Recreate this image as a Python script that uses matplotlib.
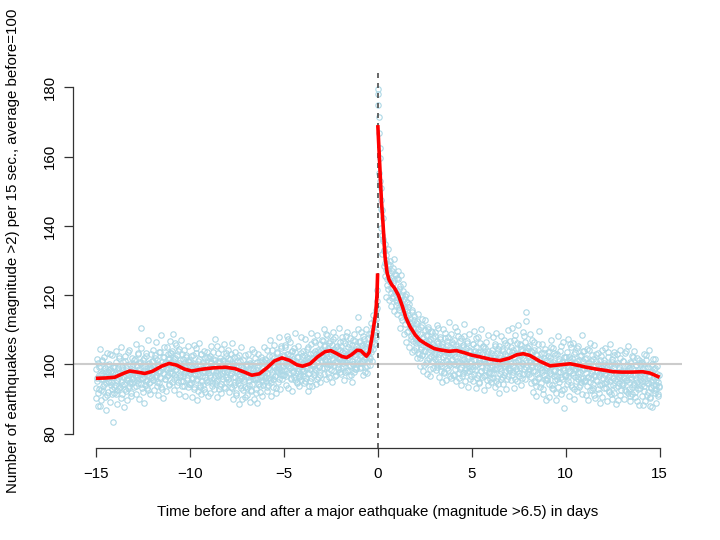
import numpy as np
import matplotlib
matplotlib.use("Agg")
import matplotlib.pyplot as plt

plt.rcParams["font.family"] = ["Liberation Sans", "DejaVu Sans"]

# relative earthquake counts, one row per day (30 readings per day), days -15 .. 14
counts = [
    [93.2, 98.7, 95.1, 100.4, 91.8, 96.9, 88.0, 99.6, 97.2, 92.5, 101.3, 95.8, 93.9, 98.1, 96.4, 90.7, 97.8, 94.6, 99.9, 95.3, 92.1, 98.4, 96.8, 103.1, 94.0, 97.5, 91.4, 99.2, 83.4, 93.6],
    [97.3, 94.1, 100.8, 95.6, 92.7, 98.9, 96.2, 102.4, 93.5, 97.7, 95.0, 99.3, 91.6, 96.7, 98.5, 94.4, 101.1, 92.9, 97.0, 95.4, 99.8, 93.1, 96.0, 104.2, 94.8, 98.2, 91.9, 97.6, 95.9, 100.2],
    [98.4, 95.2, 101.6, 97.1, 93.8, 99.7, 96.5, 102.9, 94.7, 98.8, 100.5, 95.9, 110.4, 97.3, 93.2, 99.1, 96.2, 101.8, 94.1, 98.0, 103.3, 95.5, 97.9, 92.6, 100.2, 96.8, 99.4, 94.9, 98.6, 101.0],
    [97.2, 100.9, 95.4, 99.1, 102.7, 96.3, 98.6, 93.9, 101.4, 97.8, 99.9, 94.6, 103.5, 98.2, 96.0, 100.6, 92.8, 99.4, 97.5, 102.1, 95.8, 100.3, 98.9, 105.0, 96.6, 101.7, 94.2, 99.0, 103.2, 97.4],
    [100.8, 97.6, 103.9, 99.2, 95.7, 101.5, 98.3, 106.1, 96.4, 100.1, 102.8, 94.9, 99.6, 104.4, 97.0, 101.2, 95.2, 98.7, 103.0, 96.8, 100.4, 93.7, 99.3, 97.9, 102.3, 95.6, 98.1, 101.0, 94.5, 99.8],
    [97.4, 101.3, 94.6, 99.0, 96.2, 102.6, 98.5, 93.4, 100.2, 97.1, 104.8, 95.9, 98.8, 92.3, 101.7, 96.7, 99.5, 94.0, 103.1, 97.9, 95.1, 100.7, 98.2, 93.0, 101.9, 96.3, 99.8, 94.8, 102.2, 97.6],
    [99.1, 95.3, 102.5, 97.0, 100.6, 93.8, 98.4, 103.7, 96.1, 99.9, 94.7, 101.4, 97.7, 105.3, 95.6, 98.9, 92.9, 100.8, 97.3, 102.0, 94.4, 99.5, 96.8, 101.1, 98.0, 93.5, 100.3, 96.5, 103.4, 98.6],
    [98.2, 101.8, 95.0, 99.6, 96.9, 103.0, 97.5, 93.3, 100.5, 98.7, 94.2, 102.3, 96.4, 99.2, 91.9, 98.0, 100.9, 95.5, 97.3, 102.8, 94.1, 99.4, 96.0, 89.9, 98.5, 101.2, 95.8, 97.9, 93.6, 100.1],
    [96.3, 99.7, 93.1, 97.8, 101.4, 95.2, 98.6, 92.4, 100.0, 96.7, 94.5, 99.1, 97.2, 103.6, 95.9, 91.7, 98.3, 96.0, 100.8, 94.3, 97.6, 99.9, 93.8, 96.5, 102.2, 95.4, 98.9, 94.0, 97.1, 100.6],
    [98.0, 95.3, 101.2, 97.4, 93.6, 99.8, 96.1, 102.5, 98.6, 94.8, 100.3, 97.0, 104.1, 95.7, 99.4, 101.9, 96.6, 98.8, 93.2, 100.7, 103.3, 97.7, 99.1, 95.9, 102.0, 98.3, 105.2, 96.9, 100.9, 99.5],
    [102.4, 98.6, 104.9, 100.2, 96.8, 103.1, 99.7, 107.3, 101.0, 97.4, 102.8, 95.9, 100.5, 104.0, 98.1, 101.6, 96.3, 99.3, 103.7, 97.6, 100.9, 94.8, 98.9, 102.1, 96.5, 100.0, 97.2, 103.4, 95.4, 99.8],
    [100.3, 96.7, 102.6, 98.4, 95.1, 101.2, 99.0, 104.5, 97.3, 100.8, 93.9, 102.0, 98.7, 105.8, 96.2, 101.5, 99.6, 103.3, 97.9, 100.1, 106.4, 98.5, 102.9, 95.7, 101.8, 104.1, 99.2, 103.6, 97.0, 102.4],
    [104.2, 100.6, 106.8, 102.1, 98.9, 105.3, 101.7, 108.9, 103.0, 99.4, 104.7, 97.6, 102.5, 106.1, 100.2, 103.8, 98.3, 105.6, 101.3, 107.4, 99.8, 103.2, 96.8, 102.7, 105.0, 100.9, 104.4, 98.6, 102.0, 106.5],
    [101.9, 105.4, 99.1, 103.6, 100.3, 106.7, 102.2, 97.8, 104.0, 100.7, 108.2, 101.4, 98.4, 103.1, 105.9, 99.6, 102.8, 96.9, 104.6, 101.0, 107.0, 100.0, 103.9, 98.8, 102.3, 105.2, 99.3, 101.7, 104.8, 113.8],
    [103.8, 100.4, 106.9, 102.6, 99.2, 105.5, 101.1, 108.3, 103.3, 97.9, 104.6, 101.8, 106.2, 99.7, 103.0, 107.6, 100.9, 104.2, 102.0, 109.1, 103.5, 106.4, 110.8, 114.3, 105.8, 108.6, 111.7, 107.9, 113.2, 116.4],
    [179.6, 178.2, 171.5, 162.4, 159.5, 150.8, 147.5, 144.6, 142.2, 136.1, 133.0, 129.4, 134.8, 127.2, 131.5, 124.6, 129.0, 121.8, 126.3, 123.9, 128.7, 120.6, 125.1, 122.4, 127.9, 119.8, 124.3, 121.0, 126.0, 118.7],
    [121.3, 117.9, 124.6, 119.2, 115.8, 122.7, 118.4, 113.6, 120.0, 116.5, 123.1, 114.9, 118.8, 111.7, 116.1, 120.4, 112.8, 115.3, 109.6, 114.2, 117.5, 110.9, 113.3, 108.1, 112.0, 115.6, 106.9, 110.4, 113.9, 107.7],
    [109.4, 105.0, 112.6, 107.1, 103.3, 110.2, 106.4, 101.8, 108.7, 104.5, 113.1, 102.7, 107.8, 105.6, 99.9, 109.9, 104.0, 106.9, 101.2, 108.1, 103.6, 110.8, 105.3, 98.7, 107.4, 102.4, 106.0, 109.3, 100.6, 104.7],
    [105.2, 101.6, 108.3, 103.0, 99.4, 106.7, 102.1, 110.5, 104.4, 100.2, 107.3, 98.1, 103.8, 106.0, 100.8, 104.9, 97.5, 102.6, 109.2, 101.3, 105.7, 99.0, 103.4, 107.9, 100.5, 104.1, 96.8, 102.9, 106.4, 101.7],
    [103.5, 100.1, 107.0, 102.3, 98.7, 105.4, 101.0, 109.6, 103.9, 97.4, 104.7, 100.6, 106.8, 99.3, 102.8, 96.6, 105.1, 101.5, 108.1, 98.4, 103.2, 100.0, 106.2, 97.7, 102.0, 104.3, 99.6, 95.9, 103.7, 101.1],
    [102.4, 98.8, 105.9, 101.2, 97.3, 104.0, 99.7, 107.5, 102.9, 96.1, 103.5, 100.4, 94.9, 101.8, 106.3, 98.0, 103.0, 99.2, 105.1, 96.7, 101.4, 104.7, 98.5, 102.2, 95.4, 100.6, 103.8, 97.9, 101.0, 99.4],
    [100.9, 97.6, 104.3, 99.8, 96.0, 102.7, 98.6, 106.0, 101.3, 95.2, 103.4, 99.1, 94.3, 100.5, 105.2, 97.2, 102.0, 98.2, 104.6, 96.4, 101.7, 99.5, 107.1, 97.8, 103.0, 100.2, 95.8, 102.5, 98.9, 104.0],
    [101.6, 98.3, 105.0, 100.4, 96.9, 103.7, 99.6, 107.2, 102.2, 95.9, 104.4, 100.8, 98.0, 106.1, 101.1, 97.4, 103.1, 99.0, 105.7, 102.8, 96.2, 104.0, 100.0, 108.3, 98.7, 103.5, 101.4, 115.2, 97.6, 104.9],
    [102.1, 98.6, 105.3, 100.7, 96.5, 103.9, 99.4, 107.0, 101.6, 95.3, 104.2, 98.1, 100.9, 93.8, 102.6, 97.2, 105.8, 99.9, 96.3, 101.3, 94.7, 103.4, 98.4, 100.2, 92.9, 101.9, 97.0, 104.5, 99.3, 95.6],
    [99.0, 95.6, 102.4, 98.1, 94.4, 101.1, 97.3, 104.9, 99.8, 93.3, 100.6, 96.8, 103.2, 98.5, 91.7, 100.0, 95.9, 102.9, 97.7, 94.9, 101.5, 99.2, 105.3, 96.3, 100.8, 92.6, 98.9, 87.3, 102.1, 97.1],
    [100.4, 96.9, 103.6, 99.1, 95.2, 102.2, 98.0, 106.0, 100.8, 94.1, 101.9, 97.5, 99.7, 92.8, 103.0, 96.4, 100.3, 98.6, 104.7, 95.7, 99.4, 93.6, 101.2, 97.9, 102.7, 94.8, 98.3, 100.9, 96.1, 103.9],
    [98.7, 95.3, 102.0, 97.6, 93.7, 100.5, 96.5, 104.2, 99.1, 92.5, 100.9, 96.0, 98.2, 94.4, 101.6, 97.1, 91.3, 99.5, 95.6, 103.1, 97.8, 93.0, 100.2, 96.7, 98.9, 94.1, 102.4, 97.4, 90.6, 99.8],
    [98.0, 94.6, 101.3, 96.9, 93.1, 99.8, 95.9, 103.5, 98.4, 92.0, 100.1, 95.2, 97.5, 91.4, 100.7, 96.2, 94.0, 99.0, 102.6, 95.5, 97.3, 93.5, 100.4, 96.6, 89.8, 98.7, 94.7, 101.8, 97.0, 92.7],
    [97.9, 94.3, 101.0, 96.4, 92.6, 99.5, 95.6, 103.9, 98.1, 91.7, 99.8, 94.9, 97.2, 90.9, 100.3, 95.8, 93.4, 98.6, 102.2, 94.5, 97.0, 92.1, 99.9, 96.1, 89.4, 98.3, 94.0, 101.4, 96.8, 93.2],
    [97.6, 94.0, 100.7, 88.2, 96.0, 92.4, 99.1, 95.3, 102.8, 97.8, 91.3, 99.4, 94.6, 96.9, 90.5, 88.0, 95.0, 93.1, 98.2, 101.6, 94.2, 96.5, 91.8, 99.0, 95.6, 92.8, 97.3, 90.8, 94.9, 93.4],
]

# readings taken half a step later than the ones above
counts_mid = [
    [90.3, 101.7, 96.2, 87.9, 99.4, 93.0, 104.5, 95.7, 89.6, 100.9, 97.4, 92.2, 102.3, 94.5, 98.9, 86.8, 96.6, 103.2, 91.1, 97.9, 94.9, 100.0, 89.1, 98.2, 95.0, 102.8, 92.9, 96.3, 99.7, 91.7],
    [99.2, 91.5, 103.8, 95.2, 88.7, 97.5, 101.9, 93.3, 96.9, 105.0, 90.2, 98.6, 94.0, 100.6, 87.6, 96.4, 102.5, 92.4, 99.0, 95.8, 89.8, 103.5, 97.1, 93.7, 100.1, 91.0, 98.0, 94.6, 102.0, 96.1],
    [101.2, 93.5, 98.1, 106.0, 91.4, 99.9, 95.4, 103.4, 89.9, 97.6, 100.8, 94.3, 104.7, 96.0, 92.0, 101.4, 98.5, 88.8, 99.6, 95.1, 102.5, 93.1, 97.2, 107.2, 94.7, 100.4, 91.6, 98.3, 103.0, 96.5],
    [95.5, 104.1, 99.6, 92.7, 101.8, 97.0, 106.5, 94.9, 100.0, 91.2, 98.2, 103.6, 96.3, 108.4, 93.6, 99.3, 102.2, 90.4, 97.3, 104.9, 95.8, 100.7, 92.3, 98.8, 103.1, 96.9, 101.5, 94.4, 106.9, 99.0],
    [103.4, 95.0, 100.9, 108.7, 97.1, 92.5, 102.0, 98.6, 105.6, 94.2, 99.7, 103.9, 91.6, 100.3, 96.5, 107.0, 98.1, 93.9, 101.6, 95.3, 104.3, 97.5, 90.8, 99.9, 102.7, 96.0, 105.2, 93.4, 100.6, 97.9],
    [94.3, 102.5, 98.0, 90.6, 100.4, 96.0, 105.5, 92.9, 99.1, 103.2, 95.4, 89.7, 101.1, 97.2, 106.3, 93.5, 98.7, 91.4, 102.9, 96.6, 100.0, 94.1, 104.0, 97.8, 92.1, 99.5, 95.6, 103.6, 90.9, 98.4],
    [102.0, 96.4, 91.7, 100.5, 105.2, 94.6, 98.2, 101.7, 92.8, 97.0, 107.4, 95.2, 99.6, 90.5, 103.3, 96.9, 100.9, 93.8, 98.6, 104.6, 91.9, 97.4, 101.3, 95.9, 106.0, 93.1, 99.2, 102.4, 94.9, 97.7],
    [95.7, 104.3, 92.0, 99.8, 101.6, 93.5, 97.6, 106.2, 96.3, 90.1, 100.2, 95.0, 103.7, 98.4, 91.2, 102.1, 94.7, 99.5, 88.5, 96.8, 101.0, 93.3, 105.1, 97.9, 92.5, 99.1, 95.3, 102.6, 90.7, 97.0],
    [99.9, 91.3, 96.5, 102.9, 94.1, 89.2, 100.3, 97.0, 92.6, 104.4, 95.8, 98.4, 90.0, 101.9, 96.1, 93.0, 99.4, 88.9, 97.5, 103.1, 94.4, 100.7, 92.0, 96.9, 101.2, 90.8, 98.1, 95.1, 105.0, 96.0],
    [101.5, 96.3, 92.4, 104.2, 98.9, 94.0, 100.8, 107.1, 95.5, 90.9, 102.4, 97.8, 99.6, 93.6, 105.6, 96.8, 101.0, 91.8, 98.2, 103.6, 95.0, 100.1, 108.0, 97.3, 92.9, 104.8, 99.3, 95.9, 102.7, 97.1],
    [97.0, 105.6, 100.3, 94.2, 108.1, 98.5, 102.9, 93.1, 101.6, 99.0, 106.4, 96.2, 103.8, 92.4, 100.9, 97.7, 104.7, 95.6, 109.0, 99.5, 94.6, 102.1, 98.0, 105.3, 93.9, 100.6, 96.6, 107.8, 98.7, 102.5],
    [98.1, 104.0, 94.7, 100.5, 107.3, 96.0, 102.3, 99.1, 92.3, 105.0, 97.6, 103.1, 95.3, 109.2, 100.0, 93.8, 101.9, 97.1, 106.7, 98.8, 103.9, 94.4, 100.6, 108.5, 96.5, 102.6, 99.7, 95.0, 105.9, 101.3],
    [107.0, 99.0, 103.5, 110.1, 97.2, 101.2, 105.7, 95.9, 102.3, 108.6, 100.1, 104.1, 96.4, 106.9, 99.8, 103.0, 94.8, 101.9, 109.4, 98.2, 104.5, 100.6, 107.8, 97.0, 102.9, 105.3, 99.2, 110.4, 101.5, 97.7],
    [104.3, 97.3, 101.4, 108.0, 99.5, 103.3, 95.5, 106.3, 100.6, 102.6, 109.3, 98.1, 104.9, 96.6, 101.2, 107.5, 99.9, 103.7, 94.9, 105.6, 100.2, 108.9, 97.7, 102.9, 106.8, 98.6, 104.1, 100.4, 110.2, 103.2],
    [106.5, 98.9, 102.4, 109.5, 100.7, 104.8, 96.9, 107.3, 101.6, 105.4, 99.3, 110.3, 103.1, 97.5, 106.0, 101.9, 108.7, 99.8, 104.9, 112.0, 101.0, 107.8, 104.4, 109.8, 112.9, 106.1, 115.7, 109.4, 118.2, 121.5],
    [175.0, 166.8, 155.3, 152.9, 145.0, 139.4, 137.5, 131.9, 135.6, 128.4, 132.7, 125.5, 130.2, 119.6, 127.3, 123.0, 133.4, 118.5, 124.8, 129.9, 116.9, 122.2, 127.0, 119.1, 123.6, 130.5, 115.4, 121.1, 125.7, 117.2],
    [124.9, 114.7, 127.1, 116.6, 121.9, 110.5, 119.6, 125.8, 112.9, 117.3, 121.1, 108.8, 115.0, 119.9, 106.6, 113.7, 118.0, 109.4, 116.7, 104.9, 112.3, 119.3, 107.4, 111.1, 115.2, 103.7, 109.1, 112.8, 104.2, 110.6],
    [106.2, 112.1, 101.9, 109.0, 114.5, 103.1, 107.0, 99.5, 110.7, 105.1, 102.6, 111.4, 98.2, 106.5, 103.9, 112.7, 100.4, 108.4, 97.3, 105.9, 110.1, 102.0, 106.7, 96.6, 104.3, 109.6, 101.0, 107.7, 99.1, 103.4],
    [102.5, 109.3, 98.5, 104.8, 111.3, 100.1, 106.2, 96.4, 103.1, 108.0, 99.5, 105.4, 94.9, 102.2, 110.2, 97.9, 104.0, 107.6, 95.5, 101.0, 106.8, 98.3, 103.7, 112.2, 99.9, 105.0, 96.2, 108.7, 101.4, 97.0],
    [106.0, 97.1, 102.9, 110.9, 99.9, 95.3, 104.4, 100.5, 108.3, 96.0, 103.3, 98.8, 107.6, 94.2, 101.6, 105.6, 97.5, 111.8, 100.8, 95.1, 104.8, 99.0, 106.9, 93.4, 102.5, 108.8, 98.0, 103.9, 96.6, 100.3],
    [99.6, 106.0, 95.3, 102.8, 109.7, 98.4, 93.2, 104.9, 100.0, 96.9, 107.8, 101.3, 94.7, 103.6, 98.0, 110.3, 96.3, 101.6, 105.2, 92.5, 100.5, 97.1, 106.6, 99.2, 103.0, 94.0, 108.4, 97.6, 102.3, 95.8],
    [103.2, 95.0, 99.3, 107.9, 97.4, 101.9, 93.5, 105.4, 98.7, 109.1, 96.1, 100.7, 104.5, 91.8, 99.0, 102.8, 95.7, 108.2, 100.1, 94.4, 103.8, 97.0, 106.1, 99.6, 92.9, 101.5, 105.6, 96.8, 110.0, 98.3],
    [99.1, 106.8, 95.6, 102.6, 110.6, 97.8, 104.1, 93.3, 100.7, 108.4, 98.6, 103.3, 95.1, 111.4, 101.2, 96.7, 106.0, 99.9, 94.0, 104.6, 100.3, 109.5, 97.2, 102.0, 106.5, 95.9, 112.6, 99.4, 103.9, 98.0],
    [104.7, 97.3, 101.2, 108.9, 94.6, 99.8, 103.6, 92.0, 98.2, 106.4, 100.4, 95.0, 102.9, 90.8, 99.3, 104.2, 96.2, 109.8, 98.9, 93.6, 101.7, 97.7, 106.0, 91.5, 100.0, 103.3, 95.8, 98.5, 89.6, 101.4],
    [96.0, 103.5, 99.5, 90.6, 101.8, 97.4, 107.0, 94.1, 100.2, 92.8, 104.8, 98.1, 95.4, 102.6, 89.7, 99.9, 96.6, 108.1, 93.5, 101.0, 97.9, 104.0, 91.5, 100.6, 95.9, 106.4, 98.3, 93.0, 102.3, 96.8],
    [102.1, 94.5, 99.8, 107.4, 96.5, 91.0, 101.3, 98.1, 104.9, 93.4, 100.2, 97.0, 106.1, 89.9, 98.7, 103.5, 95.3, 100.9, 92.2, 97.8, 105.3, 99.3, 94.0, 102.4, 96.0, 108.6, 91.4, 99.1, 103.8, 95.1],
    [95.4, 101.7, 91.1, 98.9, 104.6, 96.3, 89.6, 100.4, 94.8, 106.3, 97.2, 92.6, 102.8, 99.5, 93.3, 105.5, 96.7, 90.4, 100.9, 95.2, 98.2, 103.4, 91.9, 97.3, 101.2, 88.9, 99.0, 94.5, 104.1, 96.1],
    [100.5, 93.2, 97.6, 104.8, 95.0, 89.5, 99.4, 102.1, 92.4, 96.8, 106.0, 94.1, 98.5, 90.1, 101.5, 96.1, 103.6, 91.7, 97.8, 100.1, 88.7, 95.7, 102.9, 93.9, 99.2, 96.3, 104.3, 91.3, 98.0, 94.7],
    [94.2, 101.0, 96.1, 90.0, 103.3, 97.5, 92.3, 99.7, 95.4, 105.2, 93.0, 98.9, 89.5, 100.6, 96.5, 102.5, 91.6, 97.1, 94.0, 104.0, 98.4, 90.7, 99.9, 95.0, 101.9, 92.9, 97.7, 88.3, 100.2, 95.9],
    [100.4, 95.3, 91.0, 98.6, 103.0, 93.8, 97.2, 89.4, 101.2, 94.7, 99.0, 92.1, 96.8, 104.3, 90.2, 97.9, 93.5, 100.0, 87.6, 95.4, 98.8, 92.6, 101.6, 94.1, 89.0, 96.3, 99.6, 91.5, 97.0, 93.9],
]
first_day = -15
per_day = 30

# smoothed trend (red line), before and after the quake
trend_days = [-15.0, -14.5, -14.0, -13.5, -13.2, -12.8, -12.4, -12.0, -11.5, -11.1, -10.7, -10.3,
              -9.9, -9.4, -8.8, -8.1, -7.6, -7.1, -6.7, -6.3, -5.9, -5.5, -5.1, -4.7, -4.3,
              -4.0, -3.6, -3.2, -2.8, -2.5, -2.2, -1.9, -1.65, -1.4, -1.1, -0.9, -0.75, -0.6,
              -0.45, -0.3, -0.2, -0.1, -0.04, -0.005]
trend_before = [96.0, 96.1, 96.3, 97.5, 98.1, 97.8, 97.4, 98.0, 99.5, 100.3, 99.8, 98.7,
                98.1, 98.6, 99.0, 99.2, 98.8, 97.8, 96.9, 97.3, 99.0, 101.0, 101.9, 101.2, 99.9,
                99.5, 100.2, 102.2, 103.7, 104.0, 103.2, 102.3, 102.0, 102.8, 104.1, 104.0, 103.2, 102.4,
                103.5, 108.0, 111.5, 115.0, 120.0, 126.3]
trend_days_after = [0.005, 0.06, 0.12, 0.2, 0.27, 0.39, 0.5, 0.6, 0.75, 0.9, 1.1, 1.3, 1.5,
                    1.72, 2.0, 2.25, 2.6, 3.0, 3.32, 3.8, 4.2, 4.6, 5.0, 5.44, 6.0, 6.5, 7.0,
                    7.4, 7.75, 8.1, 8.6, 9.17, 9.7, 10.24, 10.7, 11.1, 11.6, 12.1, 12.52, 13.0,
                    13.5, 14.1, 14.5, 15.0]
trend_after = [169.1, 163.0, 156.2, 147.0, 141.7, 131.1, 126.5, 124.5, 123.0, 122.0, 120.0, 117.0, 113.5,
               110.9, 108.5, 107.0, 105.8, 104.6, 104.2, 103.8, 104.0, 103.4, 102.7, 102.2, 101.5, 101.1, 101.8,
               102.8, 103.1, 102.6, 101.0, 99.6, 99.9, 100.2, 99.7, 99.2, 98.7, 98.3, 97.9, 97.8,
               97.8, 97.9, 97.5, 96.3]

x_ticks = [-15, -10, -5, 0, 5, 10, 15]
y_ticks = [80, 100, 120, 140, 160, 180]


def day_positions(rows, offset):
    xs, ys = [], []
    for i, row in enumerate(rows):
        for j, v in enumerate(row):
            xs.append(first_day + i + (j + offset) / per_day)
            ys.append(v)
    return xs, ys


x1, y1 = day_positions(counts, 0.0)
x2, y2 = day_positions(counts_mid, 0.5)
x = np.array(x1 + x2)
y = np.array(y1 + y2)

fig = plt.figure(figsize=(7.2, 5.4), dpi=100)
ax = fig.add_axes([0.1018, 0.1711, 0.8456, 0.6928])

ax.plot(x, y, linestyle="none", marker="o", markersize=3.9, markerfacecolor="none",
        markeredgecolor="#add8e6", markeredgewidth=0.8, zorder=1)
ax.axhline(100, color="#cccccc", lw=1.5, zorder=2)
ax.axvline(0, color="#4d4d4d", lw=1.2, ls=(0, (3, 3)), zorder=3)
ax.plot(trend_days, trend_before, color="red", lw=2.6, solid_capstyle="butt", zorder=4)
ax.plot(trend_days_after, trend_after, color="red", lw=2.6, solid_capstyle="butt", zorder=4)

ax.set_xlim(-16.2, 16.2)
ax.set_ylim(76, 184)
for side in ["top", "right"]:
    ax.spines[side].set_visible(False)
ax.spines["left"].set_bounds(80, 180)
ax.spines["bottom"].set_bounds(-15, 15)
for side in ["left", "bottom"]:
    ax.spines[side].set_linewidth(0.9)
    ax.spines[side].set_color("#333333")

ax.set_xticks(x_ticks)
ax.set_xticklabels(["\u2212" + str(-t) if t < 0 else str(t) for t in x_ticks])
ax.set_yticks(y_ticks)
ax.tick_params(axis="both", length=6.3, width=0.9, color="#333333", labelsize=10.8)
ax.tick_params(axis="x", pad=8)
ax.tick_params(axis="y", pad=5.5)
for lab in ax.get_yticklabels():
    lab.set_rotation(90)
    lab.set_va("center")

fig.text(0.524, 0.0526, "Time before and after a major eathquake (magnitude >6.5) in days",
         ha="center", va="center", fontsize=10.8)
fig.text(0.018, 0.535, "Number of earthquakes (magnitude >2) per 15 sec., average before=100",
         ha="center", va="center", rotation=90, fontsize=10.8)

fig.savefig("out.png", dpi=100)
